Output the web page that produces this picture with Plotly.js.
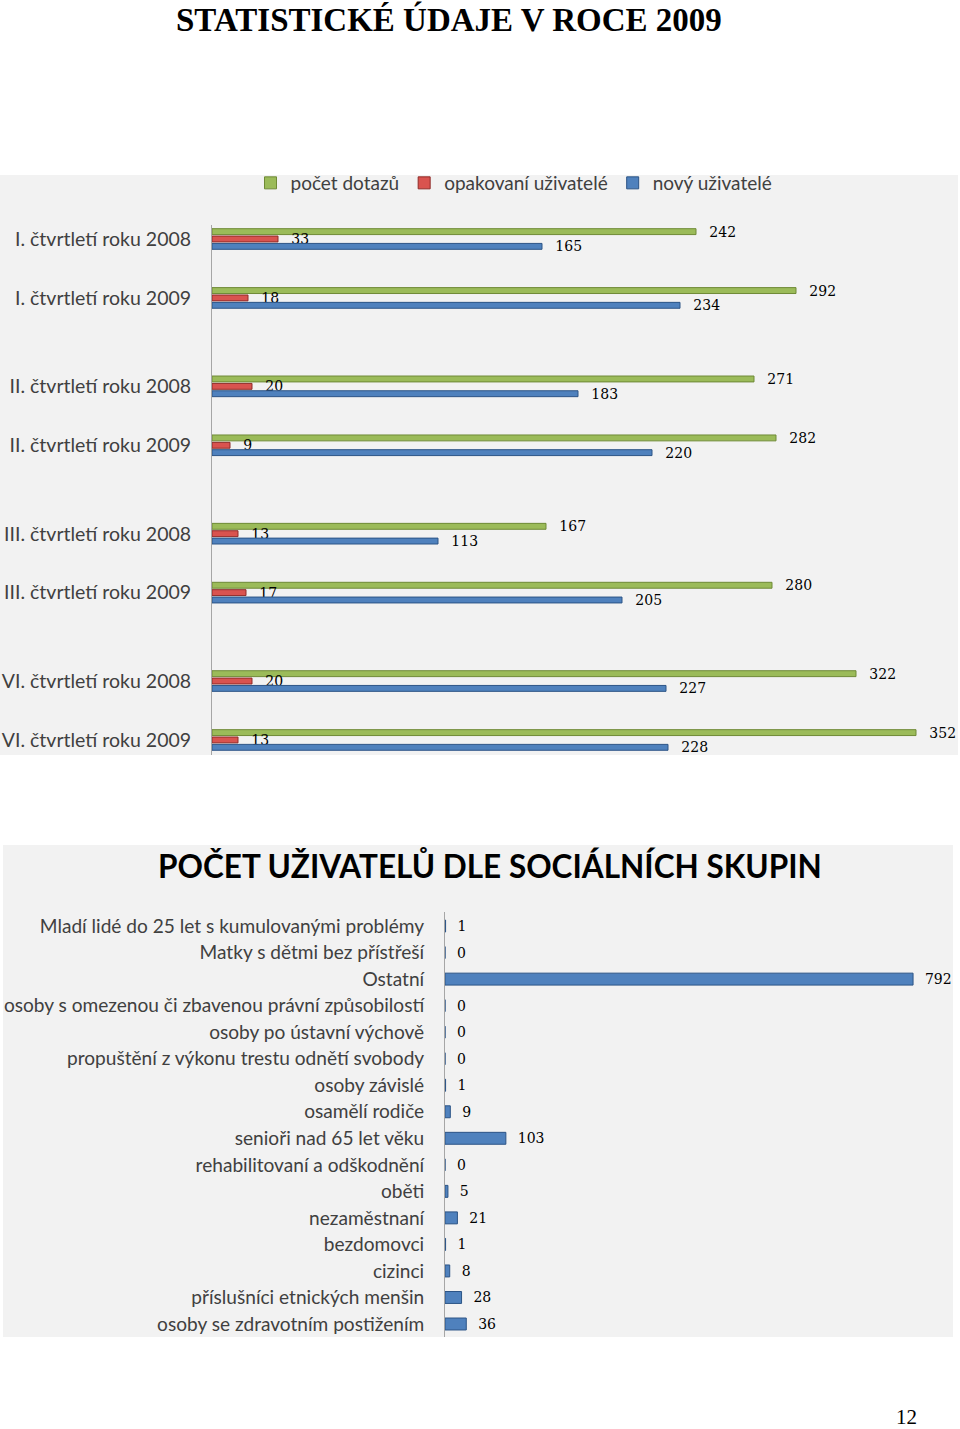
<!DOCTYPE html>
<html>
<head>
<meta charset="utf-8">
<script src="https://cdn.plot.ly/plotly-3.0.1.min.js"></script>
<style>
html,body{margin:0;padding:0;background:#fff;}
#chart{width:960px;height:1429px;}
</style>
</head>
<body>
<div id="chart"></div>
<script>
// ---- Chart 1 data ----
const quarters = [
  "I. čtvrtletí roku 2008", "I. čtvrtletí roku 2009",
  "II. čtvrtletí roku 2008", "II. čtvrtletí roku 2009",
  "III. čtvrtletí roku 2008", "III. čtvrtletí roku 2009",
  "VI. čtvrtletí roku 2008", "VI. čtvrtletí roku 2009"
];
const pocetDotazu = [242, 292, 271, 282, 167, 280, 322, 352];
const opakovaniUzivatele = [33, 18, 20, 9, 13, 17, 20, 13];
const novyUzivatele = [165, 234, 183, 220, 113, 205, 227, 228];
const seriesNames = ["počet dotazů", "opakovaní uživatelé", "nový uživatelé"];

// ---- Chart 2 data ----
const groups = [
  "Mladí lidé do 25 let s kumulovanými problémy",
  "Matky s dětmi bez přístřeší",
  "Ostatní",
  "osoby s omezenou či zbavenou právní způsobilostí",
  "osoby po ústavní výchově",
  "propuštění z výkonu trestu odnětí svobody",
  "osoby závislé",
  "osamělí rodiče",
  "senioři nad 65 let věku",
  "rehabilitovaní a odškodnění",
  "oběti",
  "nezaměstnaní",
  "bezdomovci",
  "cizinci",
  "příslušníci etnických menšin",
  "osoby se zdravotním postižením"
];
const groupCounts = [1, 0, 792, 0, 0, 0, 1, 9, 103, 0, 5, 21, 1, 8, 28, 36];

// ---- layout helpers ----
const W = 960, H = 1429;
const px = x => x / W;
const py = y => 1 - y / H;

// category positions: pairs of quarters (2 units inside a pair, 3 between pairs)
const qPos = quarters.map((_, i) => Math.floor(i / 2) * 5 + (i % 2) * 2);

const labelFont1 = {family: "Lato, 'Open Sans', sans-serif", size: 19.5, color: "#404040"};
const labelFont2 = {family: "Lato, 'Open Sans', sans-serif", size: 19.1, color: "#404040"};
const legendFont = {family: "Lato, 'Open Sans', sans-serif", size: 19, color: "#404040"};
const valFont = {family: "'DejaVu Serif', serif", size: 14, color: "#000"};
const pad1 = v => "\u00a0\u00a0\u00a0" + v;
const pad2 = v => "\u00a0\u00a0" + v;

const barW = 0.2;
const t1 = [
  {vals: pocetDotazu, name: seriesNames[0], color: "#9bbb59", line: "#6f8a36", off: -0.35},
  {vals: opakovaniUzivatele, name: seriesNames[1], color: "#d9534f", line: "#8f2b28", off: -0.1},
  {vals: novyUzivatele, name: seriesNames[2], color: "#4f81bd", line: "#2c5486", off: 0.15}
].map(s => ({
  type: "bar", orientation: "h", name: s.name,
  x: s.vals, y: qPos, xaxis: "x", yaxis: "y",
  width: barW, offset: s.off,
  marker: {color: s.color, line: {color: s.line, width: 1}},
  text: s.vals.map(pad1), textposition: "outside", textfont: valFont,
  constraintext: "none", cliponaxis: false, hoverinfo: "x+name"
}));

const t2 = {
  type: "bar", orientation: "h", name: "počet uživatelů", showlegend: false,
  x: groupCounts, y: groups, xaxis: "x2", yaxis: "y2",
  width: 0.45,
  marker: {color: "#4f81bd", line: {color: "#2c5486", width: 1}},
  text: groupCounts.map(pad2), textposition: "outside", textfont: valFont,
  constraintext: "none", cliponaxis: false
};

const layout = {
  width: W, height: H,
  margin: {l: 0, r: 0, t: 0, b: 0},
  paper_bgcolor: "#ffffff", plot_bgcolor: "rgba(0,0,0,0)",
  showlegend: true,
  legend: {
    orientation: "h", x: px(514), xanchor: "center", y: py(183), yanchor: "middle",
    font: legendFont, bgcolor: "rgba(0,0,0,0)", traceorder: "normal", itemwidth: 30
  },
  xaxis: {
    domain: [px(212), px(958)], range: [0, 373], anchor: "y",
    showgrid: false, zeroline: false, showticklabels: false, ticks: "", showline: false
  },
  yaxis: {
    domain: [py(755), py(225)], range: [17.51, -0.475], anchor: "x",
    tickmode: "array", tickvals: qPos, ticktext: quarters,
    tickfont: labelFont1, ticks: "", ticklabelstandoff: 16,
    showgrid: false, zeroline: false, showline: true, linecolor: "#a6a6a6", linewidth: 1
  },
  xaxis2: {
    domain: [px(445), px(953)], range: [0, 859.6], anchor: "y2",
    showgrid: false, zeroline: false, showticklabels: false, ticks: "", showline: false
  },
  yaxis2: {
    domain: [py(1337), py(912)], autorange: false, range: [15.49, -0.53], anchor: "x2",
    type: "category", tickfont: labelFont2, ticks: "", ticklabelstandoff: 16,
    showgrid: false, zeroline: false, showline: true, linecolor: "#a6a6a6", linewidth: 1
  },
  shapes: [
    {type: "rect", xref: "paper", yref: "paper", x0: px(0), x1: px(958), y0: py(755), y1: py(175),
     fillcolor: "#f2f2f2", line: {width: 0}, layer: "below"},
    {type: "rect", xref: "paper", yref: "paper", x0: px(3), x1: px(953), y0: py(1337), y1: py(845),
     fillcolor: "#f2f2f2", line: {width: 0}, layer: "below"}
  ],
  annotations: [
    {text: "STATISTICKÉ ÚDAJE V ROCE 2009", xref: "paper", yref: "paper",
     x: px(449), y: py(20), xanchor: "center", yanchor: "middle", showarrow: false,
     font: {family: "'Liberation Serif', 'Times New Roman', serif", size: 33, color: "#000", weight: "bold"}},
    {text: "POČET UŽIVATELŮ DLE SOCIÁLNÍCH SKUPIN", xref: "paper", yref: "paper",
     x: px(490), y: py(866), xanchor: "center", yanchor: "middle", showarrow: false,
     font: {family: "Lato, sans-serif", size: 31.5, color: "#000", weight: "bold"}},
    {text: "12", xref: "paper", yref: "paper",
     x: px(906), y: py(1417), xanchor: "center", yanchor: "middle", showarrow: false,
     font: {family: "'Liberation Serif', serif", size: 21, color: "#000"}}
  ]
};

Plotly.newPlot("chart", t1.concat([t2]), layout, {displayModeBar: false, staticPlot: true});
</script>
</body>
</html>
